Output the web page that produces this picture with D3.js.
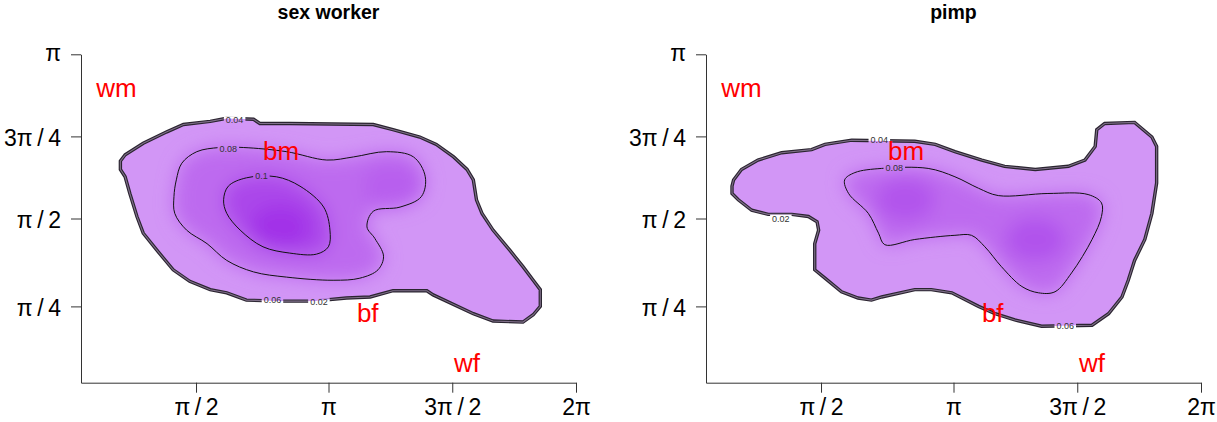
<!DOCTYPE html>
<html>
<head>
<meta charset="utf-8">
<script src="https://cdn.jsdelivr.net/npm/d3@7"></script>
<style>
  body { margin: 0; background: #fff; }
  svg { display: block; font-family: "Liberation Sans", Arial, sans-serif; }
</style>
</head>
<body>
<svg id="chart" width="1217" height="422"></svg>
<script>
// axis ticks (angles, radians)
const xTickValues = [1.46, Math.PI, 3 * Math.PI / 2, 2 * Math.PI];
const xTickLabels = ["π/2", "π", "3π/2", "2π"];
const yTickValues = [0.73, Math.PI / 2, 3 * Math.PI / 4, Math.PI];
const yTickLabels = ["π/4", "π/2", "3π/4", "π"];

// group labels, same spot on both panels
const groupNames = ["wm", "bm", "bf", "wf"];
const groupPos = [[0.45, 2.82], [2.54, 2.22], [3.64, 0.67], [4.9, 0.19]];

// sex worker: outer edge of the density (0.02/0.04/0.06 lines bunch here)
const swBoundary = [[0.50,2.12],[0.56,2.18],[0.79,2.29],[1.09,2.40],[1.30,2.47],[1.64,2.50],[1.85,2.53],[2.19,2.52],
  [2.27,2.48],[2.65,2.48],[3.71,2.47],[3.96,2.42],[4.30,2.35],[4.51,2.28],[4.73,2.16],[4.90,2.04],[4.98,1.94],
  [5.02,1.75],[5.09,1.62],[5.23,1.46],[5.44,1.27],[5.61,1.11],[5.74,0.98],[5.83,0.89],[5.83,0.73],[5.74,0.65],
  [5.61,0.58],[5.23,0.59],[4.98,0.66],[4.47,0.84],[4.39,0.88],[3.96,0.88],[3.67,0.82],[3.37,0.81],[2.95,0.78],
  [2.53,0.78],[2.10,0.79],[1.85,0.86],[1.64,0.89],[1.38,0.97],[1.17,1.08],[0.96,1.27],[0.79,1.43],[0.71,1.59],
  [0.62,1.81],[0.56,1.97],[0.50,2.04]];
const swLevel08 = [[1.21,1.94],[1.28,2.10],[1.47,2.21],[1.76,2.25],[2.06,2.25],[2.61,2.21],[3.12,2.13],[3.46,2.16],
  [3.88,2.21],[4.22,2.16],[4.37,1.97],[4.32,1.78],[4.05,1.68],[3.71,1.64],[3.63,1.49],[3.73,1.38],[3.84,1.21],
  [3.77,1.08],[3.54,1.00],[3.20,0.98],[2.61,1.01],[2.19,1.06],[1.85,1.17],[1.60,1.33],[1.34,1.46],[1.19,1.62],[1.18,1.78]];
const swLevel10 = [[1.81,1.75],[1.87,1.88],[2.10,1.96],[2.48,1.97],[2.78,1.88],[3.08,1.68],[3.16,1.46],[3.14,1.30],
  [2.99,1.23],[2.65,1.24],[2.31,1.30],[2.02,1.46],[1.85,1.62]];
const swPeaks = [[2.53, 1.49, 0.115], [3.95, 1.88, 0.086]];
const swLineLabels = ["0.04", "0.08", "0.1", "0.06", "0.02"];
const swLineLabelPos = [[1.95,2.51],[1.87,2.24],[2.29,1.98],[2.43,0.79],[3.02,0.77]];

// pimp
const pimpBoundary = [[0.33,1.88],[0.35,1.94],[0.45,2.04],[0.66,2.13],[0.96,2.20],[1.34,2.23],[1.51,2.28],[1.85,2.32],
  [2.65,2.31],[2.91,2.28],[3.16,2.21],[3.50,2.13],[3.79,2.07],[4.18,2.04],[4.60,2.07],[4.81,2.13],[4.94,2.26],
  [4.96,2.42],[5.06,2.48],[5.44,2.49],[5.66,2.35],[5.72,2.26],[5.72,1.91],[5.66,1.62],[5.57,1.37],[5.44,1.17],
  [5.36,0.98],[5.28,0.82],[5.11,0.66],[4.90,0.55],[4.26,0.54],[3.92,0.60],[3.67,0.66],[3.46,0.73],[3.12,0.86],
  [2.86,0.89],[2.65,0.89],[2.23,0.82],[2.10,0.79],[1.93,0.81],[1.72,0.87],[1.51,1.00],[1.38,1.08],[1.38,1.33],
  [1.43,1.46],[1.41,1.54],[1.30,1.59],[1.09,1.61],[0.79,1.61],[0.58,1.65],[0.41,1.75],[0.33,1.81]];
const pimpLevel08 = [[1.76,1.94],[1.89,2.01],[2.23,2.05],[2.82,2.05],[3.16,1.97],[3.46,1.86],[3.71,1.79],[4.34,1.81],
  [4.85,1.80],[5.02,1.72],[5.02,1.59],[4.90,1.37],[4.64,1.05],[4.43,0.87],[4.22,0.86],[4.01,0.92],[3.75,1.11],
  [3.54,1.30],[3.37,1.41],[3.16,1.41],[2.65,1.37],[2.27,1.32],[2.19,1.43],[2.06,1.62],[1.81,1.81]];
const pimpPeaks = [[2.53, 1.75, 0.092], [4.18, 1.37, 0.093]];
const pimpLineLabels = ["0.04", "0.08", "0.02", "0.06"];
const pimpLineLabelPos = [[2.20,2.32],[2.39,2.06],[0.95,1.57],[4.56,0.54]];

const width = 1217, height = 422;
const plotW = 495, yTop = 54.3, yBot = 382.7;

const panels = [
  { id: "sw", title: "sex worker", left: 81, boundary: swBoundary,
    levels: [swLevel08, swLevel10], levelValues: [0.08, 0.1], peaks: swPeaks,
    lineLabels: swLineLabels, lineLabelPos: swLineLabelPos },
  { id: "pimp", title: "pimp", left: 706, boundary: pimpBoundary,
    levels: [pimpLevel08], levelValues: [0.08], peaks: pimpPeaks,
    lineLabels: pimpLineLabels, lineLabelPos: pimpLineLabelPos }
];

const fillColor = d3.scaleLinear()
  .domain([0.06, 0.08, 0.1, 0.115])
  .range(["#d296f6", "#bd6aef", "#ab46ea", "#a233e8"]);

const svg = d3.select("#chart");
const defs = svg.append("defs");
defs.append("filter").attr("id", "soft")
  .attr("x", "-50%").attr("y", "-50%").attr("width", "200%").attr("height", "200%")
  .append("feGaussianBlur").attr("stdDeviation", 9);

panels.forEach(p => {
  const x = d3.scaleLinear().domain([0, 2 * Math.PI]).range([p.left, p.left + plotW]);
  const y = d3.scaleLinear().domain([0, Math.PI]).range([yBot, yTop]);
  const edge = d3.line().x(d => x(d[0])).y(d => y(d[1])).curve(d3.curveLinearClosed);
  const smooth = d3.line().x(d => x(d[0])).y(d => y(d[1])).curve(d3.curveCatmullRomClosed.alpha(0.5));

  defs.append("clipPath").attr("id", "clip-" + p.id)
    .append("path").attr("d", edge(p.boundary));

  const g = svg.append("g").attr("id", "panel-" + p.id);

  // density fill
  const fill = g.append("g").attr("clip-path", `url(#clip-${p.id})`);
  fill.append("path").attr("d", edge(p.boundary)).attr("fill", fillColor(0.06));
  const blur = fill.append("g").attr("filter", "url(#soft)");
  p.levels.forEach((lv, i) => {
    blur.append("path").attr("d", smooth(lv)).attr("fill", fillColor(p.levelValues[i]));
  });
  p.peaks.forEach(pk => {
    blur.append("ellipse")
      .attr("cx", x(pk[0])).attr("cy", y(pk[1]))
      .attr("rx", 30).attr("ry", 22)
      .attr("fill", fillColor(pk[2]));
  });

  // contour lines, cut where the labels sit
  const mask = defs.append("mask").attr("id", "mask-" + p.id)
    .attr("maskUnits", "userSpaceOnUse")
    .attr("x", 0).attr("y", 0).attr("width", width).attr("height", height);
  mask.append("rect").attr("width", width).attr("height", height).attr("fill", "#fff");

  const lines = g.append("g").attr("mask", `url(#mask-${p.id})`).attr("fill", "none");
  lines.append("path").attr("d", edge(p.boundary)).attr("stroke", "#2a2430").attr("stroke-width", 3.4);
  lines.append("path").attr("d", edge(p.boundary)).attr("stroke", "#80708a").attr("stroke-width", 1.1);
  p.levels.forEach(lv => {
    lines.append("path").attr("d", smooth(lv)).attr("stroke", "#111").attr("stroke-width", 1);
  });

  const labs = g.append("g").attr("font-size", 9).attr("fill", "#333");
  p.lineLabels.forEach((t, i) => {
    const tx = x(p.lineLabelPos[i][0]), ty = y(p.lineLabelPos[i][1]);
    const txt = labs.append("text")
      .attr("x", tx).attr("y", ty).attr("dy", "0.35em")
      .attr("text-anchor", "middle").text(t);
    const w = txt.node().getComputedTextLength();
    mask.append("rect")
      .attr("x", tx - w / 2 - 2).attr("y", ty - 4)
      .attr("width", w + 4).attr("height", 8).attr("fill", "#000");
  });

  // axes
  const xAxis = d3.axisBottom(x)
    .tickValues(xTickValues)
    .tickFormat((d, i) => xTickLabels[i].replace("/", "\u2009/\u2009"))
    .tickSize(10).tickSizeOuter(0).tickPadding(6);
  const yAxis = d3.axisLeft(y)
    .tickValues(yTickValues)
    .tickFormat((d, i) => yTickLabels[i].replace("/", "\u2009/\u2009"))
    .tickSize(10).tickSizeOuter(0).tickPadding(10);

  const gx = g.append("g").attr("transform", `translate(0,${yBot})`).call(xAxis);
  const gy = g.append("g").attr("transform", `translate(${p.left},0)`).call(yAxis);
  [gx, gy].forEach(a => {
    a.attr("font-family", null).attr("font-size", null);
    a.selectAll("path, line").attr("stroke", "#333");
    a.selectAll("text").attr("font-size", 23).attr("fill", "#000");
  });
  gy.selectAll("text").attr("dy", (d, i) => /\d/.test(yTickLabels[i]) ? "0.41em" : "0.26em");

  // group labels
  g.append("g").selectAll("text")
    .data(groupNames)
    .join("text")
    .attr("x", (d, i) => x(groupPos[i][0]))
    .attr("y", (d, i) => y(groupPos[i][1]) + 9)
    .attr("text-anchor", "middle")
    .attr("font-size", 26)
    .attr("fill", "#ff0000")
    .text(d => d);

  // title
  g.append("text")
    .attr("x", p.left + plotW / 2).attr("y", 19)
    .attr("text-anchor", "middle")
    .attr("font-size", 19.5).attr("font-weight", "bold")
    .text(p.title);
});
</script>
</body>
</html>
